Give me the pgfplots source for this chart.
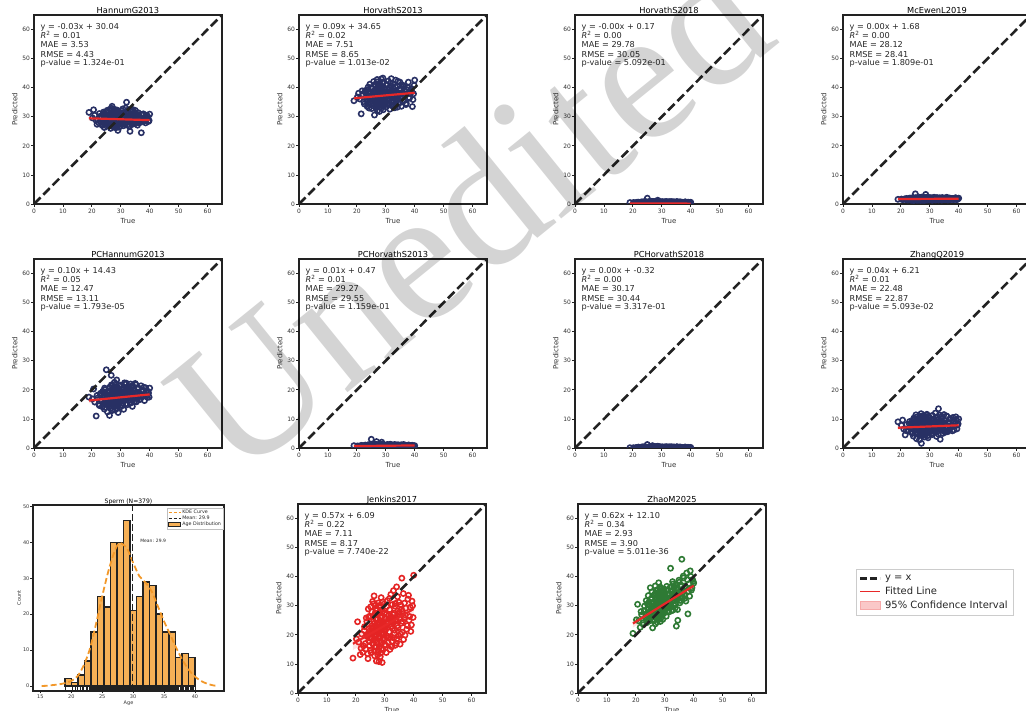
\documentclass[border=0pt]{standalone}
\usepackage{fontspec}
\setmainfont{DejaVu Sans}
\newfontfamily\wmfont{Liberation Serif}
\usepackage{pgfplots}
\pgfplotsset{compat=1.18}
\usepackage{pgfplotstable}

\definecolor{navy}{RGB}{40,48,100}
\definecolor{fitred}{RGB}{232,40,40}
\definecolor{ptred}{RGB}{228,36,36}
\definecolor{ptgreen}{RGB}{46,122,52}
\definecolor{barorange}{RGB}{246,176,86}
\definecolor{kdeorange}{RGB}{242,152,42}
\definecolor{spine}{RGB}{34,34,34}
\definecolor{cipink}{RGB}{250,200,200}

\pgfplotstableread{
x hn hv hve mc pch pchv pchve zq jk zm
19.0 31.5 35.5 0.5 1.6 17.5 0.8 0.1 9.0 12.0 20.5
20.6 32.4 38.1 0.4 1.5 20.3 0.6 -0.1 9.6 24.5 30.5
21.5 28.7 31.0 0.6 1.8 11.0 0.9 0.2 4.5 13.2 22.6
22.4 27.9 35.2 0.3 1.4 15.1 0.5 0.0 6.1 14.0 24.1
22.9 30.2 39.0 0.7 2.0 18.2 1.0 0.3 8.3 21.5 28.3
23.3 29.6 36.8 0.5 1.7 16.4 0.7 0.1 7.2 17.0 26.0
23.6 27.0 33.5 0.2 1.3 14.2 0.4 -0.2 5.4 25.8 31.8
23.9 30.8 40.2 0.8 2.1 19.0 1.1 0.4 9.2 19.4 25.4
24.1 28.4 37.9 0.4 1.6 17.3 0.6 0.0 6.8 13.5 29.0
24.3 26.3 34.1 0.6 1.9 13.4 0.8 0.2 4.1 28.9 33.5
24.5 31.3 41.2 0.3 1.2 20.1 0.5 -0.1 10.3 22.1 27.2
24.7 29.1 36.0 0.7 1.8 16.0 0.9 0.3 7.7 16.3 24.8
24.8 27.6 38.6 0.5 1.5 18.7 0.7 0.1 5.9 26.4 30.2
25.0 30.0 35.4 2.0 3.5 26.9 3.0 1.2 8.8 18.8 36.2
25.1 28.8 32.8 0.4 1.7 15.3 0.6 0.0 6.4 29.6 26.5
25.2 26.8 39.8 0.6 2.2 17.8 1.2 0.2 11.4 14.7 32.3
25.4 31.7 37.2 0.3 1.4 12.4 0.4 -0.2 3.2 23.0 28.1
25.6 29.4 34.6 0.8 1.9 19.6 1.0 0.4 8.0 20.2 34.8
25.8 27.4 42.1 0.5 1.6 16.8 0.7 0.1 5.1 31.5 22.4
25.9 30.5 36.5 0.2 1.3 14.8 0.3 -0.3 9.9 16.9 29.6
26.1 28.1 30.6 0.7 2.0 11.2 0.9 0.3 7.0 24.7 27.8
26.3 32.6 38.9 0.4 1.5 20.8 0.6 0.0 6.0 33.4 31.0
26.4 29.8 35.9 0.6 1.8 17.1 0.8 0.2 2.8 19.9 25.1
26.5 26.0 40.7 0.5 2.3 15.6 1.3 0.1 8.6 12.8 33.9
26.6 30.9 33.2 0.9 1.7 18.4 0.5 0.5 10.8 27.3 28.6
26.7 28.3 37.6 0.3 1.4 25.0 0.7 -0.1 6.7 21.8 36.8
26.8 27.2 34.8 0.7 2.1 13.8 2.2 0.8 4.7 15.8 23.8
26.9 31.2 39.4 0.4 1.6 19.3 0.6 0.0 9.4 30.2 30.7
27.0 29.2 36.3 0.6 1.9 16.5 0.9 0.2 7.5 18.3 27.0
27.0 33.6 42.8 0.5 1.5 21.4 0.4 0.1 11.8 25.2 35.3
27.1 28.6 32.1 0.8 2.0 12.9 1.0 0.4 1.6 11.0 25.9
27.2 30.3 38.3 0.3 1.3 17.6 0.5 -0.2 8.2 22.9 32.1
27.3 27.7 35.0 0.6 1.8 15.0 0.8 0.2 5.6 28.4 29.3
27.35 31.9 40.9 0.5 2.4 19.9 1.1 0.1 9.7 17.6 24.4
27.45 29.0 33.9 0.7 1.6 16.2 0.6 0.3 6.9 20.8 31.5
27.5 26.5 37.0 0.4 1.4 14.4 0.3 0.0 4.3 26.9 27.5
27.6 30.7 39.1 0.6 2.0 18.9 0.9 0.2 10.1 14.2 34.1
27.7 28.2 36.1 0.3 1.7 17.0 0.7 -0.1 7.3 23.6 28.9
27.8 32.0 31.8 0.8 1.5 22.6 0.5 0.4 8.9 31.0 26.2
27.9 29.5 41.5 0.5 2.2 15.4 1.2 0.1 5.2 19.1 37.9
28.0 27.1 38.0 0.7 1.8 13.1 0.8 0.3 6.5 10.8 30.0
28.0 30.1 34.4 0.4 1.3 18.0 0.4 0.0 11.1 27.7 32.9
28.1 28.5 37.4 0.6 1.9 20.4 1.0 0.2 7.9 21.2 25.7
28.2 31.4 40.3 0.3 1.6 16.7 0.6 -0.2 3.8 16.1 33.2
28.3 26.2 35.6 0.9 2.1 14.6 0.9 0.5 9.3 24.0 28.0
28.4 29.9 43.0 0.5 1.4 19.2 0.5 0.1 6.2 29.3 35.7
28.5 28.0 33.0 0.7 1.7 15.9 0.7 0.3 8.4 18.0 24.6
28.55 30.6 38.8 0.4 2.0 17.9 1.1 0.0 10.6 25.9 31.3
28.6 27.5 36.6 1.3 3.3 23.4 2.0 0.6 5.8 13.7 29.8
28.7 32.3 39.6 0.6 1.5 21.0 0.6 0.2 7.4 22.4 33.7
28.75 29.3 34.2 0.3 1.8 16.1 0.8 -0.1 9.5 32.8 27.3
28.8 27.8 41.8 0.8 2.3 13.6 1.2 0.4 4.9 20.5 36.0
28.9 31.0 37.7 0.5 1.6 18.6 0.5 0.1 8.1 15.3 30.4
29.0 25.3 35.1 0.7 1.9 15.8 0.9 0.3 6.6 26.2 26.8
29.0 29.7 43.3 0.4 1.4 20.0 0.4 0.0 11.6 23.3 32.6
29.1 28.9 32.4 0.6 2.1 12.2 1.0 0.2 7.8 10.5 28.4
29.2 30.4 38.4 0.3 1.7 17.4 0.7 -0.2 5.3 28.0 34.5
29.3 27.3 36.9 0.8 1.5 19.7 0.6 0.4 9.1 18.6 25.3
29.4 31.6 40.0 0.5 2.0 16.3 1.1 0.1 3.5 24.4 31.9
29.6 28.4 34.7 0.6 1.8 18.3 0.8 0.2 7.1 20.0 29.1
29.8 26.7 39.3 0.4 1.4 14.1 0.5 0.0 10.4 30.6 35.0
30.0 30.0 37.3 0.7 2.2 21.6 0.9 0.3 6.3 16.6 27.6
30.1 29.4 33.4 0.3 1.6 17.2 0.6 -0.1 8.5 25.5 33.0
30.3 32.1 41.1 0.8 1.9 19.5 1.0 0.4 5.7 22.7 30.9
30.5 27.5 35.8 0.5 1.5 15.5 0.7 0.1 9.8 13.9 26.4
30.6 30.8 38.7 0.6 2.0 18.1 1.2 0.2 7.6 27.1 32.4
30.8 28.6 36.2 0.4 1.7 20.7 0.5 0.0 4.6 19.6 29.5
30.9 26.9 42.3 0.7 1.3 16.6 0.8 0.3 11.2 31.8 35.5
31.0 31.5 34.0 0.3 2.1 13.3 0.6 -0.2 8.7 23.9 28.2
31.2 29.2 39.9 0.6 1.8 19.4 1.0 0.2 6.1 17.3 33.6
31.4 30.4 32.6 0.5 1.5 17.7 0.7 0.1 10.0 26.6 31.2
31.5 27.9 37.8 0.8 2.3 21.9 1.3 0.4 7.2 21.0 27.9
31.7 33.0 40.6 0.4 1.6 15.2 0.5 0.0 5.5 28.7 34.3
31.8 29.6 35.3 0.6 1.9 18.5 0.8 0.2 9.0 15.0 30.1
31.9 28.2 43.1 0.3 1.4 22.3 0.6 -0.1 12.0 24.8 36.4
32.0 35.0 36.7 0.7 2.0 16.9 1.1 0.3 6.8 19.2 42.9
32.1 30.2 38.2 0.5 1.7 20.2 0.7 0.1 8.3 33.9 32.8
32.3 27.2 33.7 0.4 1.5 14.9 0.9 0.0 4.0 26.0 29.7
32.5 31.1 41.4 0.8 2.2 19.0 0.5 0.4 10.7 17.8 35.1
32.6 29.0 37.1 0.6 1.8 17.5 1.0 0.2 7.0 30.4 31.6
32.7 32.4 34.9 0.3 1.6 21.2 0.6 -0.2 9.6 22.2 38.3
32.8 28.8 39.5 0.7 2.0 16.4 0.8 0.3 5.9 24.3 28.5
33.0 26.6 36.4 0.5 1.4 18.8 0.4 0.1 13.5 35.2 33.4
33.1 30.6 33.1 0.6 1.9 20.5 1.2 0.2 8.0 18.9 30.3
33.2 25.0 38.5 0.4 1.7 15.7 0.7 0.0 6.4 27.5 36.6
33.4 29.8 42.6 0.8 2.1 22.0 0.9 0.4 11.3 21.6 31.7
33.5 31.8 35.7 0.5 1.5 17.3 0.5 0.1 7.4 29.9 34.7
33.6 28.3 39.0 0.3 1.8 19.8 1.0 -0.1 3.0 16.4 29.2
33.8 30.3 36.0 0.7 2.0 18.0 0.7 0.3 9.2 25.3 37.2
34.0 27.4 33.3 0.6 1.6 14.3 0.8 0.2 6.7 17.1 23.0
34.1 32.5 40.4 0.4 1.4 21.5 0.6 0.0 10.2 36.5 35.9
34.3 29.1 37.6 0.7 2.2 17.6 1.1 0.3 7.7 23.1 32.2
34.5 28.0 34.5 0.5 1.7 20.0 0.5 0.1 5.0 28.2 25.0
34.7 30.9 39.2 0.3 1.9 16.0 0.9 -0.2 8.8 19.7 34.0
34.9 27.6 41.9 0.6 1.5 18.7 0.7 0.2 11.5 31.2 38.8
35.2 31.3 36.8 0.8 2.0 21.8 1.0 0.4 6.0 25.6 31.0
35.4 29.5 33.6 0.4 1.6 15.9 0.6 0.0 9.4 20.3 36.9
35.7 28.1 38.1 0.6 1.8 19.1 0.8 0.2 7.1 28.8 33.1
35.9 30.5 40.8 0.5 2.3 17.1 0.5 0.1 10.9 39.5 46.0
36.2 27.9 35.5 0.7 1.4 20.6 1.2 0.3 5.6 24.6 34.6
36.5 30.0 38.9 0.3 1.7 18.2 0.7 -0.1 8.6 18.4 39.6
36.8 29.3 37.5 0.6 2.0 16.8 0.9 0.2 6.5 30.9 32.5
37.1 24.5 34.6 0.5 1.5 19.6 0.6 0.1 9.9 26.8 36.3
37.6 30.7 40.1 0.4 1.9 17.7 0.8 0.0 7.3 21.9 41.3
38.0 28.5 36.6 0.7 1.6 20.9 1.0 0.3 10.5 32.3 27.2
38.4 29.7 38.0 0.5 1.8 18.4 0.6 0.1 6.2 25.0 37.6
38.8 28.9 39.7 0.3 2.1 19.3 0.7 -0.2 8.4 29.5 42.0
39.2 30.2 33.5 0.6 1.5 17.4 0.9 0.2 9.8 23.4 35.4
39.6 28.4 37.9 0.4 1.7 18.9 0.5 0.0 7.9 30.0 39.0
40.0 30.9 42.6 0.6 2.0 20.6 0.8 0.2 10.0 40.5 37.8
}\data

\pgfplotstableread{
x hn hv hve mc pch pchv pchve zq jk zm
21.0 30.5 36.1 0.4 1.6 15.8 0.6 0.1 6.5 17.5 24.8
22.0 29.0 37.8 0.6 1.9 17.2 0.8 0.3 8.1 20.3 26.9
22.6 31.1 34.4 0.3 1.5 14.6 0.5 -0.1 5.8 16.2 23.5
23.0 28.2 38.4 0.5 1.7 18.8 0.9 0.2 9.1 22.8 29.9
23.4 30.0 35.7 0.7 2.0 16.0 0.7 0.4 6.9 15.1 27.1
23.8 27.5 39.3 0.4 1.4 19.5 0.6 0.0 8.5 24.6 24.2
24.0 31.6 36.9 0.6 1.8 15.2 1.0 0.2 5.0 19.8 30.6
24.2 29.3 33.0 0.3 1.6 17.9 0.4 -0.1 7.6 11.8 26.3
24.4 27.9 38.1 0.8 2.1 20.6 0.8 0.3 9.8 26.1 28.7
24.6 30.3 35.0 0.5 1.5 14.0 0.6 0.1 6.3 17.7 31.4
24.9 28.6 40.0 0.4 1.7 18.4 0.7 0.0 7.9 21.4 25.6
25.3 32.2 37.4 0.6 1.9 16.6 0.9 0.2 10.6 13.9 29.3
25.5 29.8 33.8 0.7 1.4 19.1 0.5 0.3 5.5 27.9 32.7
25.7 27.2 38.7 0.3 2.0 15.7 1.1 -0.2 8.2 22.0 27.4
26.0 30.7 35.9 0.5 1.6 17.6 0.7 0.1 6.6 18.1 24.9
26.2 28.9 41.0 0.6 1.8 20.9 0.6 0.2 9.5 30.7 33.6
26.45 26.9 36.4 0.4 1.5 13.5 0.8 0.0 4.4 14.5 28.4
26.55 31.0 34.0 0.8 2.2 18.2 1.0 0.4 7.4 24.1 30.1
26.65 29.6 39.7 0.5 1.7 16.3 0.6 0.1 10.2 19.3 26.0
26.75 27.8 37.1 0.3 1.3 21.7 0.4 -0.1 6.2 26.8 31.9
26.85 32.9 35.3 0.7 1.9 15.0 0.9 0.3 8.7 16.0 34.4
26.95 29.1 42.0 0.5 1.6 18.0 0.7 0.1 5.3 22.6 27.2
27.05 28.0 33.6 0.6 2.1 17.0 0.8 0.2 9.0 29.0 29.8
27.15 30.4 38.6 0.4 1.5 19.9 0.5 0.0 7.0 20.1 25.5
27.25 26.8 36.2 0.7 1.8 14.9 1.1 0.3 11.0 17.2 32.6
27.4 31.3 40.6 0.5 1.6 17.4 0.6 0.1 6.0 25.4 28.1
27.55 29.4 34.9 0.3 2.0 20.5 0.7 -0.2 8.0 13.1 30.9
27.65 27.6 37.9 0.8 1.4 16.1 0.9 0.4 4.9 23.5 35.6
27.75 30.9 35.4 0.5 1.7 18.7 0.5 0.1 9.6 18.9 26.7
27.85 28.7 41.3 0.6 2.2 14.5 1.0 0.2 7.2 27.4 31.2
27.95 32.5 36.7 0.4 1.5 21.1 0.6 0.0 5.7 21.7 28.8
28.05 29.7 33.3 0.7 1.9 17.1 0.8 0.3 10.4 15.6 33.5
28.15 26.6 39.0 0.5 1.6 19.0 0.7 0.1 6.8 30.1 27.6
28.25 30.2 37.2 0.3 1.3 15.6 0.4 -0.1 8.6 19.5 30.4
28.35 28.3 34.6 0.8 2.0 22.1 1.2 0.4 5.4 24.9 36.5
28.45 31.8 40.2 0.5 1.7 16.9 0.6 0.1 9.3 12.5 29.0
28.65 29.0 36.0 0.6 1.8 18.5 0.9 0.2 7.5 28.3 25.8
28.85 27.0 38.5 0.4 1.5 14.8 0.5 0.0 11.3 22.3 32.0
28.95 30.8 35.2 0.7 2.1 20.3 0.8 0.3 6.1 17.4 34.9
29.05 28.6 41.7 0.5 1.6 17.8 0.7 0.1 8.8 26.5 28.6
29.15 32.0 37.0 0.3 1.4 16.0 1.1 -0.2 4.2 20.7 31.5
29.25 29.5 33.9 0.8 1.9 19.4 0.6 0.4 9.7 31.3 26.9
29.35 26.4 39.8 0.6 1.7 15.3 0.8 0.2 7.0 14.8 33.1
29.5 30.1 36.5 0.4 2.0 21.3 0.5 0.0 6.4 23.7 29.7
29.7 28.8 38.2 0.7 1.5 17.3 0.9 0.3 10.8 18.2 35.8
29.9 31.2 34.3 0.5 1.8 18.9 0.7 0.1 5.8 27.6 27.8
30.2 27.7 40.9 0.3 1.6 16.2 0.6 -0.1 8.9 21.5 32.3
30.4 29.9 37.6 0.6 2.1 20.1 1.0 0.2 7.3 16.4 30.0
30.7 32.7 35.6 0.5 1.4 14.6 0.8 0.1 9.9 29.7 36.7
31.1 28.4 39.4 0.7 1.8 18.3 0.5 0.3 5.1 24.2 29.4
31.3 30.6 36.3 0.4 1.6 22.4 0.7 0.0 8.4 19.0 33.8
31.6 27.3 41.6 0.8 2.2 16.7 1.1 0.4 6.9 32.5 31.0
32.2 31.5 34.1 0.5 1.7 19.3 0.6 0.1 10.3 22.9 35.2
32.4 29.2 38.9 0.3 1.5 17.0 0.8 -0.2 7.8 15.9 28.3
32.9 26.9 36.9 0.6 1.9 20.8 0.9 0.2 4.8 27.0 37.5
33.3 30.7 40.3 0.7 2.0 15.4 0.5 0.3 9.1 20.6 32.9
33.7 28.9 35.1 0.4 1.6 18.6 0.7 0.0 6.5 30.8 30.6
33.9 31.9 38.3 0.5 1.8 21.0 1.0 0.1 8.6 25.1 36.1
34.2 27.6 42.2 0.7 1.4 16.5 0.6 0.3 10.9 18.7 33.0
34.4 30.4 37.0 0.3 2.1 19.7 0.8 -0.1 6.0 33.1 28.7
34.6 29.0 34.8 0.6 1.7 17.2 0.5 0.2 7.6 22.5 35.4
35.0 32.2 39.6 0.5 1.5 22.2 0.9 0.1 9.6 27.8 38.1
35.3 28.2 36.1 0.8 1.9 15.9 0.7 0.4 5.4 16.8 31.8
35.5 30.0 41.0 0.4 1.6 19.2 1.1 0.0 8.2 30.3 34.8
35.8 27.1 38.4 0.6 2.2 17.6 0.6 0.2 11.0 24.0 37.0
36.0 31.4 35.4 0.5 1.8 20.4 0.8 0.1 6.8 20.9 32.8
36.4 29.4 40.5 0.7 1.5 16.6 0.5 0.3 8.9 34.2 40.2
36.7 28.0 37.7 0.3 1.7 18.6 0.9 -0.1 6.2 25.8 33.7
37.0 30.8 34.2 0.6 2.0 21.4 0.7 0.2 10.1 19.9 36.8
37.3 28.6 39.2 0.5 1.6 17.9 0.6 0.1 7.7 29.2 31.6
37.8 31.0 41.9 0.4 1.9 19.9 1.0 0.0 5.9 23.2 38.9
38.2 29.3 36.4 0.7 1.5 16.3 0.8 0.3 9.3 33.6 35.0
38.6 27.9 39.1 0.5 1.7 20.7 0.5 0.1 7.5 26.3 33.3
39.0 30.5 38.6 0.6 2.1 18.0 0.9 0.2 10.7 21.2 40.1
39.4 29.8 35.9 0.4 1.6 19.5 0.7 0.0 6.6 31.6 36.2
39.8 28.7 40.8 0.5 1.8 17.5 0.6 0.1 8.3 26.0 38.4
20.2 29.6 36.8 0.5 1.7 16.9 0.7 0.1 7.8 18.6 25.2
21.8 27.4 38.9 0.6 1.5 18.1 0.6 0.2 6.0 15.4 28.0
30.05 30.3 36.9 0.4 1.7 17.7 0.8 0.0 7.9 22.1 30.8
31.05 29.1 38.0 0.6 1.8 18.2 0.7 0.2 7.1 24.5 31.7
32.05 30.0 37.3 0.5 1.6 17.8 0.6 0.1 8.0 23.8 32.4
33.05 28.5 38.7 0.7 1.9 18.9 0.9 0.3 6.7 26.9 33.9
34.05 29.7 36.6 0.4 1.7 18.4 0.7 0.0 7.4 25.0 32.7
35.05 30.9 38.0 0.6 1.6 17.6 0.8 0.2 8.1 27.2 34.1
36.05 28.1 37.8 0.5 1.8 19.0 0.6 0.1 7.2 28.1 35.6
25.05 29.5 36.3 0.5 1.7 16.8 0.7 0.1 7.6 20.6 28.2
26.05 28.4 37.4 0.6 1.6 17.5 0.8 0.2 7.0 21.3 28.9
27.05 30.2 36.8 0.4 1.8 16.4 0.6 0.0 8.3 22.7 29.4
28.05 29.2 37.9 0.7 1.7 17.7 0.7 0.3 6.9 21.9 30.5
29.05 28.9 36.8 0.5 1.9 18.1 0.9 0.1 7.7 23.4 29.9
30.15 30.6 37.5 0.6 1.6 17.3 0.7 0.2 8.4 23.0 31.3
31.35 28.8 38.6 0.4 1.8 18.7 0.6 0.0 7.3 25.6 32.1
32.45 30.1 37.7 0.6 1.7 18.0 0.8 0.2 7.9 24.7 33.2
33.55 29.4 38.3 0.5 1.9 19.1 0.7 0.1 8.5 25.9 32.5
24.55 29.9 36.0 0.6 1.6 16.6 0.8 0.2 7.1 20.0 27.8
25.55 28.3 37.0 0.5 1.8 17.2 0.6 0.1 7.8 22.5 29.0
26.25 30.0 38.2 0.4 1.7 18.3 0.7 0.0 6.5 21.0 27.3
27.25 28.8 36.6 0.7 1.5 16.8 0.9 0.3 8.0 23.9 30.3
28.25 29.9 37.5 0.5 1.8 17.9 0.6 0.1 7.5 22.4 29.2
29.45 28.5 38.1 0.6 1.7 17.4 0.8 0.2 7.2 24.3 30.6
}\datab

\newcommand{\stf}{\fontsize{8.2}{9.2}\selectfont}
\def\pvfill{none}
\def\pvsep{0bp}

\pgfplotsset{
  base/.style={
    scale only axis, anchor=north west,
    axis line style={line width=1.8bp, draw=spine},
    tick align=outside, tick pos=left,
    major tick length=3bp,
    every tick/.style={draw=spine, line width=0.8bp},
    /pgf/number format/assume math mode=true,
    tick label style={text=black!80},
    xticklabel style={inner sep=1.6bp},
    yticklabel style={inner sep=0.9bp},
    clip=true, clip marker paths=true,
  },
  sc/.style={base, width=188bp, height=189bp,
    xmin=0, xmax=65, ymin=0, ymax=65,
    xtick={0,10,...,60}, ytick={0,10,...,60},
    tick label style={font=\fontsize{6}{6}\selectfont},
    xlabel={True}, ylabel={Predicted},
    label style={font=\fontsize{7}{7}\selectfont, text=black!80},
    xlabel style={at={(axis description cs:0.5,0)}, anchor=base, yshift=-19.5bp, inner sep=0pt},
    ylabel style={at={(axis description cs:0,0.5)}, anchor=center, yshift=19.3bp, inner sep=0pt},
    title style={font=\fontsize{8.3}{8.3}\selectfont, at={(axis description cs:0.5,1)}, anchor=base, yshift=-4bp, inner sep=0pt},
  },
  pts/.style={only marks, mark=o, mark size=2.6bp, mark options={line width=1.6bp}},
  legline/.style={legend image code/.code={\draw[##1] (0bp,0bp) -- (20bp,0bp);}},
  legarea/.style={legend image code/.code={\draw[##1] (0bp,-3.5bp) rectangle (20bp,4bp);}},
}

% #1 position, #3 title, #4 stats (4 lines), #5 p-value, #6 column, #7 colour, #8 fit, #9 band
\newcommand{\scplot}[9]{%
\begin{axis}[sc, at={(#1)}, title={#3}]
\addplot[draw=none, fill=cipink, fill opacity=0.5] coordinates {#9};
\addplot[pts, color=#7] table[x=x, y=#6]{\data};
\addplot[pts, color=#7] table[x=x, y=#6]{\datab};
\addplot[draw=spine, line width=2.6bp, dash pattern=on 9.2bp off 4bp] coordinates {(0,0) (65,65)};
\addplot[fitred, line width=2.2bp] coordinates {#8};
\node[anchor=north west, align=left, inner sep=0pt, font=\stf, text=black!85, xshift=6.5bp, yshift=-8.3bp] at (rel axis cs:0,1) {#4};
\node[anchor=base west, inner xsep=0pt, inner ysep=\pvsep, fill=\pvfill, font=\stf, text=black!85, xshift=6.5bp, yshift=-51bp] at (rel axis cs:0,1) {#5};
\end{axis}}

\begin{document}
\begin{tikzpicture}
\useasboundingbox (0bp,0bp) rectangle (1026bp,711bp);
\clip (0bp,0bp) rectangle (1026bp,711bp);

% Row 1
\scplot{34bp,696bp}{}{HannumG2013}{y = -0.03x + 30.04\\\textit{R}\textsuperscript{2} = 0.01\\MAE = 3.53\\RMSE = 4.43}{p-value = 1.324e-01}{hn}{navy}{(19,29.47) (40,28.84)}{(19,28.6) (40,28.0) (40,29.7) (19,30.3)}
\scplot{299bp,696bp}{}{HorvathS2013}{y = 0.09x + 34.65\\\textit{R}\textsuperscript{2} = 0.02\\MAE = 7.51\\RMSE = 8.65}{p-value = 1.013e-02}{hv}{navy}{(19,36.36) (40,38.25)}{(19,35.3) (40,37.2) (40,39.3) (19,37.4)}
\scplot{575bp,696bp}{}{HorvathS2018}{y = -0.00x + 0.17\\\textit{R}\textsuperscript{2} = 0.00\\MAE = 29.78\\RMSE = 30.05}{p-value = 5.092e-01}{hve}{navy}{(19,0.2) (40,0.13)}{(19,0.0) (40,0.0) (40,0.3) (19,0.4)}
\scplot{843bp,696bp}{}{McEwenL2019}{y = 0.00x + 1.68\\\textit{R}\textsuperscript{2} = 0.00\\MAE = 28.12\\RMSE = 28.41}{p-value = 1.809e-01}{mc}{navy}{(19,1.72) (40,1.80)}{(19,1.5) (40,1.6) (40,2.0) (19,1.9)}
% Row 2
\scplot{34bp,452bp}{}{PCHannumG2013}{y = 0.10x + 14.43\\\textit{R}\textsuperscript{2} = 0.05\\MAE = 12.47\\RMSE = 13.11}{p-value = 1.793e-05}{pch}{navy}{(19,16.33) (40,18.43)}{(19,15.4) (40,17.5) (40,19.4) (19,17.3)}
\scplot{299bp,452bp}{}{PCHorvathS2013}{y = 0.01x + 0.47\\\textit{R}\textsuperscript{2} = 0.01\\MAE = 29.27\\RMSE = 29.55}{p-value = 1.159e-01}{pchv}{navy}{(19,0.66) (40,0.87)}{(19,0.5) (40,0.7) (40,1.0) (19,0.8)}
\scplot{575bp,452bp}{}{PCHorvathS2018}{y = 0.00x + -0.32\\\textit{R}\textsuperscript{2} = 0.00\\MAE = 30.17\\RMSE = 30.44}{p-value = 3.317e-01}{pchve}{navy}{(19,-0.32) (40,-0.32)}{(19,-0.5) (40,-0.5) (40,-0.1) (19,-0.1)}
\scplot{843bp,452bp}{}{ZhangQ2019}{y = 0.04x + 6.21\\\textit{R}\textsuperscript{2} = 0.01\\MAE = 22.48\\RMSE = 22.87}{p-value = 5.093e-02}{zq}{navy}{(19,6.97) (40,7.81)}{(19,6.3) (40,7.1) (40,8.5) (19,7.6)}
% Row 3
\def\pvfill{white}
\def\pvsep{2.6bp}
\scplot{298bp,207bp}{}{Jenkins2017}{y = 0.57x + 6.09\\\textit{R}\textsuperscript{2} = 0.22\\MAE = 7.11\\RMSE = 8.17}{p-value = 7.740e-22}{jk}{ptred}{(19,16.92) (40,28.89)}{(19,14.8) (40,26.8) (40,31.0) (19,19.0)}
\scplot{578bp,207bp}{}{ZhaoM2025}{y = 0.62x + 12.10\\\textit{R}\textsuperscript{2} = 0.34\\MAE = 2.93\\RMSE = 3.90}{p-value = 5.011e-36}{zm}{ptgreen}{(19,23.88) (40,36.90)}{(19,22.5) (40,35.5) (40,38.3) (19,25.3)}

% Histogram
\begin{axis}[base, at={(33bp,206bp)}, width=191bp, height=186bp,
  xmin=13.8, xmax=44.7, ymin=-1.4, ymax=50.4,
  xtick={15,20,...,45}, ytick={0,10,...,50},
  axis line style={line width=1.5bp},
  major tick length=2.5bp,
  tick label style={font=\fontsize{5}{5}\selectfont},
  title={Sperm (N=379)},
  title style={font=\fontsize{6.1}{6.1}\selectfont, at={(axis description cs:0.5,1)}, anchor=base, yshift=-4bp, inner sep=0pt},
  xlabel={Age}, ylabel={Count},
  label style={font=\fontsize{5}{5}\selectfont, text=black!80},
  xlabel style={at={(axis description cs:0.5,0)}, anchor=base, yshift=-14bp, inner sep=0pt},
  ylabel style={at={(axis description cs:0,0.5)}, anchor=center, yshift=14bp, inner sep=0pt},
  legend style={at={(axis description cs:1,1)}, anchor=north east, xshift=-1bp, yshift=-3bp,
    font=\fontsize{4.8}{5.6}\selectfont, draw=black!25, inner sep=1bp, row sep=-0.5bp,
    nodes={inner sep=0.8bp, text=black!85}},
  legend cell align=left,
]
\addplot[ybar interval, fill=barorange, draw=spine, line width=1.4bp, forget plot] coordinates {
(19,2) (20.05,1) (21.1,3) (22.15,7) (23.2,15) (24.25,25) (25.3,22) (26.35,40) (27.4,40) (28.45,46)
(29.5,21) (30.55,25) (31.6,29) (32.65,28) (33.7,20) (34.75,15) (35.8,15) (36.85,8) (37.9,9) (38.95,8) (40,8)};
\addplot[only marks, mark=|, mark size=2.2bp, mark options={line width=0.7bp, draw=spine}, forget plot] table[x=x, y expr=-0.7]{\data};
\addplot[only marks, mark=|, mark size=2.2bp, mark options={line width=0.7bp, draw=spine}, forget plot] table[x=x, y expr=-0.7]{\datab};
\addplot[kdeorange, line width=1.8bp, dash pattern=on 6bp off 3bp, smooth, forget plot] coordinates {
(15.2,0.0) (16,0.05) (17,0.25) (18,0.45) (19,0.8) (20,1.4) (21,2.7) (22,5.7) (23,10.3) (24,17.3) (25,25.0)
(26,32) (27,37.5) (27.8,39.8) (29,38.3) (30,34.3) (31,30.6) (32,28.8) (33,26.3) (34,22.2) (35,18.0)
(36,14.3) (37,10.5) (38,7.2) (39,4.5) (40,2.6) (41,1.4) (42,0.6) (43,0.15) (43.7,0.0)};
\addplot[spine, line width=1.8bp, dash pattern=on 7bp off 3bp, forget plot] coordinates {(29.9,-1.4) (29.9,50.4)};
\node[anchor=west, font=\fontsize{4.5}{4.5}\selectfont, text=black!85] at (axis cs:30.6,40.4) {Mean: 29.9};
\addlegendimage{legend image code/.code={\draw[kdeorange, line width=1.5bp, dash pattern=on 3.5bp off 1.5bp] (0bp,0bp) -- (12bp,0bp);}}
\addlegendentry{KDE Curve}
\addlegendimage{legend image code/.code={\draw[spine, line width=1.6bp, dash pattern=on 3.5bp off 1.5bp] (0bp,0bp) -- (12bp,0bp);}}
\addlegendentry{Mean: 29.9}
\addlegendimage{legend image code/.code={\draw[fill=barorange, draw=spine, line width=0.9bp] (0bp,-2bp) rectangle (12bp,2.2bp);}}
\addlegendentry{Age Distribution}
\end{axis}

% Main legend (legend entries only; these series lie outside the hidden axis' range)
\begin{axis}[at={(856bp,142bp)}, anchor=north west, hide axis, scale only axis, width=158bp, height=48bp,
  xmin=0, xmax=1, ymin=0, ymax=1, clip=true,
  legend style={at={(0,1)}, anchor=north west, draw=black!20, line width=0.8bp, fill=white,
    font=\fontsize{10}{12}\selectfont, inner xsep=2.5bp, inner ysep=4.5bp, row sep=2.5bp,
    nodes={text=black!85, inner xsep=3.6bp, inner ysep=1.2bp}},
  legend cell align=left]
\addplot[spine, line width=2.6bp, dash pattern=on 6.5bp off 3.5bp, legline] coordinates {(2,2) (3,3)};
\addlegendentry{y = x}
\addplot[fitred, line width=1.8bp, solid, legline] coordinates {(2,2) (3,3)};
\addlegendentry{Fitted Line}
\addplot[fill=cipink, draw=fitred!40, line width=0.6bp, solid, legarea] coordinates {(2,2) (3,3) (3,2)};
\addlegendentry{95\% Confidence Interval}
\end{axis}

% Watermark
\node[rotate=39, text=black, text opacity=0.17, font=\wmfont\fontsize{192}{192}\selectfont, inner sep=0pt] at (468bp,500bp) {Unedited};
\end{tikzpicture}
\end{document}
